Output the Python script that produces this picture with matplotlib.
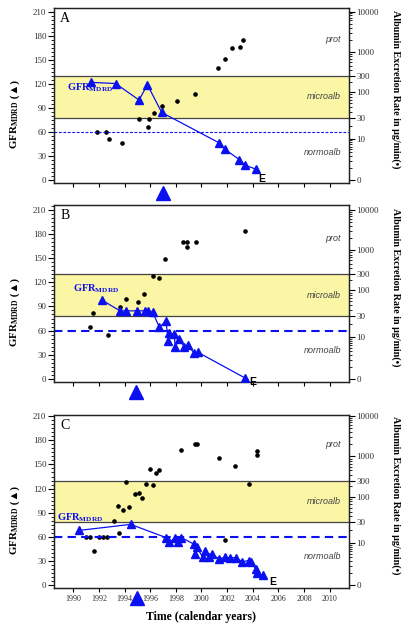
import numpy as np
import matplotlib
matplotlib.use("Agg")
import matplotlib.pyplot as plt
from matplotlib.ticker import FixedLocator, NullFormatter, MultipleLocator
from matplotlib.transforms import blended_transform_factory

plt.rcParams['font.family'] = ['Liberation Serif', 'DejaVu Sans']
plt.rcParams['mathtext.fontset'] = 'custom'
plt.rcParams['mathtext.rm'] = 'Liberation Serif'
plt.rcParams['mathtext.bf'] = 'Liberation Serif:bold'
plt.rcParams['mathtext.it'] = 'Liberation Serif:italic'

# ---------------- data ----------------
# Panel A
gfr_year_A = [1991.36, 1993.3, 1995.13, 1995.78, 1996.9, 2001.35, 2001.8, 2002.95, 2003.4, 2004.25]
gfr_A      = [122, 120.5, 100, 119, 84.5, 47, 39, 26, 19, 14]
alb_year_A = [1991.83, 1992.55, 1992.8, 1993.8, 1995.1, 1995.9, 1995.8, 1996.3, 1996.9, 1998.08,
              1999.5, 2001.28, 2001.8, 2002.4, 2002.97, 2003.2]
alb_A      = [14.3, 14.3, 10, 7.7, 27.6, 27.6, 18.2, 38, 51, 65, 93, 440, 700, 1260, 1340, 1980]
arrow_year_A = 1997.0

# Panel B
gfr_year_B = [1992.22, 1993.65, 1994.12, 1995.0, 1995.58, 1995.84, 1996.2, 1996.72, 1997.22,
              1997.42, 1997.48, 1997.87, 1997.95, 1998.26, 1998.65, 1998.94, 1999.43, 1999.72, 2003.41]
gfr_B      = [98, 84.5, 84.5, 84.5, 84.5, 84.5, 82.5, 64, 72, 47, 57, 55.5, 40, 49, 40, 41.5, 32, 33, 1]
alb_year_B = [1991.3, 1991.54, 1992.68, 1993.65, 1994.12, 1995.03, 1995.52, 1996.2, 1996.7,
              1997.16, 1998.54, 1998.86, 1998.9, 1999.56, 2003.39]
alb_B      = [17.5, 35.5, 11.1, 47, 66, 58.6, 86, 265, 231, 627, 1586, 1586, 1160, 1550, 2970]
arrow_year_B = 1994.9

# Panel C
gfr_year_C = [1990.47, 1994.48, 1997.24, 1997.5, 1997.95, 1998.18, 1998.44, 1999.4, 1999.53,
              1999.64, 2000.08, 2000.29, 2000.55, 2000.8, 2001.38, 2001.8, 2002.19, 2002.69,
              2003.18, 2003.67, 2003.83, 2004.25, 2004.3, 2004.82]
gfr_C      = [68, 75.5, 59, 53, 59, 53, 59, 51, 39, 47, 35, 42, 35, 38.5, 32.5, 34.5, 34, 34,
              29, 30.5, 29, 20, 14.5, 12.5]
alb_year_C = [1991.0, 1991.28, 1991.64, 1992.03, 1992.34, 1992.66, 1993.2, 1993.47, 1993.57,
              1993.86, 1994.14, 1994.38, 1994.8, 1995.1, 1995.34, 1995.68, 1996.0, 1996.23,
              1996.46, 1996.72, 1998.41, 1999.48, 1999.64, 2001.33, 2001.8, 2002.63, 2003.67,
              2004.3, 2004.35]
alb_C      = [14.1, 14.1, 6.0, 14.1, 14.1, 14.1, 32, 64, 17, 54, 275, 62, 116, 125, 96, 235,
              523, 219, 442, 498, 1460, 2060, 2060, 905, 12.1, 619, 240, 1356, 1077]
arrow_year_C = 1994.95

panel_letters = ['A', 'B', 'C']
gfr_ticks = [0, 30, 60, 90, 120, 150, 180, 210]
alb_ticks = [0, 10, 30, 100, 300, 1000, 10000]
alb_tick_labels = ['0', '10', '30', '100', '300', '1000', '10000']
alb_minor = [1, 2, 3, 4, 5, 6, 7, 8, 9, 20, 40, 50, 60, 70, 80, 90, 200, 400, 500, 600, 700,
             800, 900, 2000, 3000, 4000, 5000, 6000, 7000, 8000, 9000]
year_ticks = list(range(1990, 2011, 2))
gfr_threshold = 60
micro_lo, micro_hi = 30, 300

# ---------------- albumin axis scale (calibration of the right axis) ----------------
ALB_CAL = np.array([0, 10, 30, 100, 300, 1000, 10000], float)
POS_CAL = np.array([0, 52, 78, 110, 130, 160, 210], float)
U_CAL = np.log10(ALB_CAL + 1)


def _u(a):
    a = np.asarray(a, float)
    return np.where(a >= 0, np.log10(np.abs(a) + 1), a / np.log(10))


def _uinv(u):
    u = np.asarray(u, float)
    return np.where(u >= 0, 10 ** np.clip(u, -50, 50) - 1, u * np.log(10))


def _pw(x, X, Y):
    x = np.asarray(x, float)
    y = np.interp(x, X, Y)
    lo = Y[0] + (x - X[0]) * (Y[1] - Y[0]) / (X[1] - X[0])
    hi = Y[-1] + (x - X[-1]) * (Y[-1] - Y[-2]) / (X[-1] - X[-2])
    return np.where(x < X[0], lo, np.where(x > X[-1], hi, y))


def fwd(a):
    return _pw(_u(a), U_CAL, POS_CAL)


def inv(p):
    return _uinv(_pw(p, POS_CAL, U_CAL))


# ---------------- figure ----------------
BLUE = '#0a10f0'
fig = plt.figure(figsize=(4.08, 6.32), dpi=100)

panels = [
    dict(gy=gfr_year_A, g=gfr_A, ay=alb_year_A, a=alb_A, arrow=arrow_year_A,
         rect=[54 / 408, 1 - 183.3 / 632, 295 / 408, 175 / 632], ylim=(-3.5, 214),
         thin=True, glab=(0.043, 114.7), eoff=(1.5, -7)),
    dict(gy=gfr_year_B, g=gfr_B, ay=alb_year_B, a=alb_B, arrow=arrow_year_B,
         rect=[54 / 408, 1 - 381.7 / 632, 295 / 408, 176.7 / 632], ylim=(-3.5, 216),
         thin=False, glab=(0.065, 111.5), eoff=(3, -2.5)),
    dict(gy=gfr_year_C, g=gfr_C, ay=alb_year_C, a=alb_C, arrow=arrow_year_C,
         rect=[54 / 408, 1 - 588.3 / 632, 295 / 408, 173.3 / 632], ylim=(-4, 211.5),
         thin=False, glab=(0.011, 84), eoff=(4.5, -5)),
]

tick_color = '#333333'
for i, pd in enumerate(panels):
    ax = fig.add_axes(pd['rect'])
    ax2 = ax.twinx()
    ax.set_zorder(ax2.get_zorder() + 1)
    ax.patch.set_visible(False)

    ax.set_xlim(1988.5, 2011.5)
    ax.set_ylim(*pd['ylim'])
    ax2.set_yscale('function', functions=(fwd, inv))
    ax2.set_ylim(float(inv(pd['ylim'][0])), float(inv(pd['ylim'][1])))

    # microalbuminuria band
    ax2.axhspan(micro_lo, micro_hi, facecolor='#fbf5a6', edgecolor='none', zorder=0)
    for v in (micro_lo, micro_hi):
        ax2.axhline(v, color='#444444', lw=0.9, zorder=1)

    # GFR threshold line
    if pd['thin']:
        ax.axhline(gfr_threshold, color=BLUE, lw=0.8, ls=(0, (2.5, 1.5)), zorder=2)
    else:
        ax.axhline(gfr_threshold, color=BLUE, lw=1.5, ls=(0, (4, 2.5)), zorder=2)

    # albumin points
    ax2.plot(pd['ay'], pd['a'], 'o', color='black', ms=2.3, zorder=3)

    # GFR series
    ax.plot(pd['gy'], pd['g'], '-', color=BLUE, lw=0.9, zorder=4)
    ax.plot(pd['gy'], pd['g'], '^', color=BLUE, ms=5.3, mec=BLUE, zorder=5)
    ax.annotate('E', (pd['gy'][-1], pd['g'][-1]), xytext=pd['eoff'], textcoords='offset points',
                family='Liberation Sans', fontweight='bold', fontsize=7.5, ha='left', va='center',
                zorder=6)

    # big arrow triangle below axes
    tr = blended_transform_factory(ax.transData, ax.transAxes)
    ax.plot([pd['arrow']], [-0.057], '^', color=BLUE, ms=10, transform=tr, clip_on=False, zorder=7)

    # text labels
    ax.text(0.037, 0.94, panel_letters[i], transform=ax.transAxes, fontsize=10,
            ha='center', va='center')
    gx, gyv = pd['glab']
    ax.text(gx, gyv, r'GFR$_{\mathbf{MDRD}}$', transform=blended_transform_factory(ax.transAxes, ax.transData),
            color=BLUE, fontsize=7.5, fontweight='bold', ha='left', va='center', zorder=6)
    tb = blended_transform_factory(ax.transAxes, ax.transData)
    for lab, yv in (('prot', 175), ('microalb', 104), ('normoalb', 35)):
        ax.text(0.973, yv, lab, transform=tb, family='Liberation Sans', style='italic',
                fontsize=6.5, color='#444444', ha='right', va='center')

    # left axis ticks
    ax.set_yticks(gfr_ticks)
    ax.yaxis.set_minor_locator(MultipleLocator(5))
    ax.tick_params(axis='y', which='major', direction='out', length=4, width=0.8,
                   labelsize=6.5, labelcolor=tick_color, pad=1.5)
    ax.tick_params(axis='y', which='minor', direction='out', length=2, width=0.6)
    ax.set_xticks(year_ticks)
    ax.tick_params(axis='x', which='major', direction='out', length=3, width=0.8,
                   labelsize=5.8, labelcolor=tick_color, pad=2)
    if i < 2:
        ax.set_xticklabels([])

    # right axis ticks
    ax2.yaxis.set_major_locator(FixedLocator(alb_ticks))
    ax2.set_yticklabels(alb_tick_labels)
    ax2.yaxis.set_minor_locator(FixedLocator(alb_minor))
    ax2.yaxis.set_minor_formatter(NullFormatter())
    ax2.tick_params(axis='y', which='major', direction='out', length=4, width=0.8,
                    labelsize=6.5, labelcolor=tick_color, pad=1.5)
    ax2.tick_params(axis='y', which='minor', direction='out', length=2, width=0.6)

    for a_ in (ax, ax2):
        for s in a_.spines.values():
            s.set_linewidth(0.9)
            s.set_color('#222222')

    # y axis labels
    ax.text(-0.124, 0.47, r'GFR$_{\mathbf{MDRD}}$', transform=ax.transAxes, rotation=90,
            rotation_mode='anchor', ha='right', va='baseline', fontsize=7.8, fontweight='bold')
    ax.text(-0.124, 0.47, ' (\u25b2)', transform=ax.transAxes, rotation=90,
            rotation_mode='anchor', ha='left', va='baseline', fontsize=7.8, fontweight='bold',
            family=['Liberation Serif', 'DejaVu Sans'])
    ax.text(1.159, 0.535, 'Albumin Excretion Rate in \u00b5g/min(\u2022)', transform=ax.transAxes,
            rotation=270, ha='center', va='center', fontsize=7.2, fontweight='bold')

fig.text(201 / 408, 1 - 617 / 632, 'Time (calendar years)', ha='center', va='center',
         fontsize=8.5, fontweight='bold')

fig.savefig('out.png', dpi=100)
